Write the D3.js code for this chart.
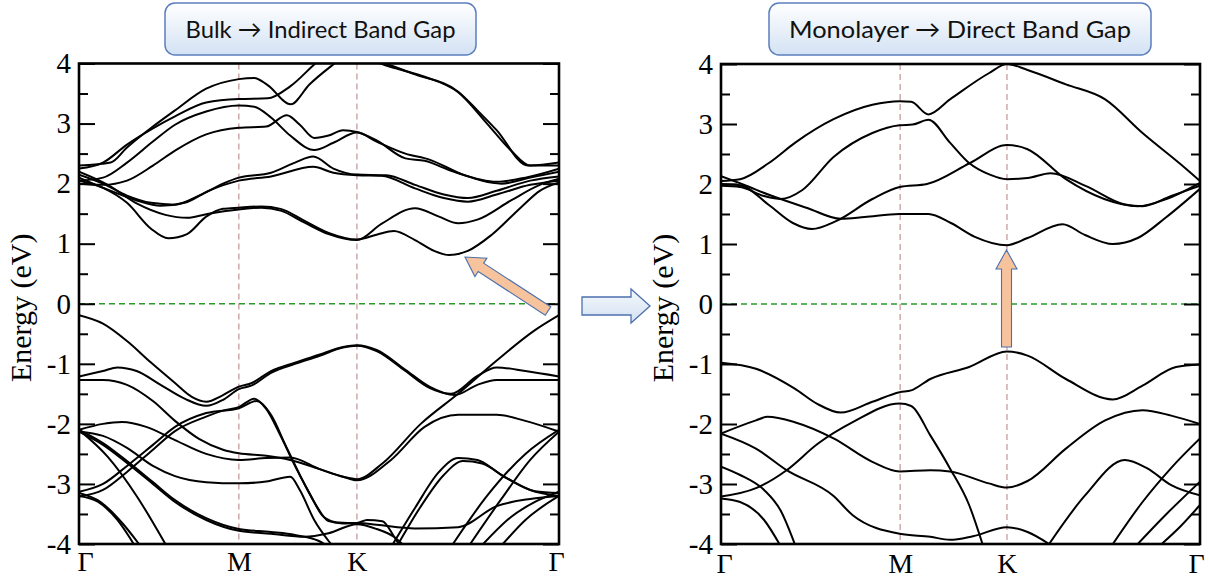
<!DOCTYPE html>
<html>
<head>
<meta charset="utf-8">
<script src="https://cdn.jsdelivr.net/npm/d3@7"></script>
<style>
  body { margin: 0; background: #fff; }
  svg { display: block; }
</style>
</head>
<body>
<div id="chart"></div>
<script>
// ---- data ----
const energyTicks = [-4, -3, -2, -1, 0, 1, 2, 3, 4];
const minorTicks = [-3.5, -2.5, -1.5, -0.5, 0.5, 1.5, 2.5, 3.5];
const kLabels = ["Γ", "M", "K", "Γ"];
const bulkKPoints = [0, 0.333, 0.579, 1];
const monoKPoints = [0, 0.374, 0.597, 1];
const bulkTitle = "Bulk → Indirect Band Gap";
const monoTitle = "Monolayer → Direct Band Gap";

// each band: [k (fraction of path), energy eV]
const bulkConduction = [
  [[0,2.05],[0.05,1.93],[0.1,1.68],[0.15,1.25],[0.186,1.09],[0.225,1.16],[0.265,1.45],[0.3,1.58],[0.333,1.6],[0.38,1.62],[0.42,1.58],[0.47,1.38],[0.52,1.18],[0.579,1.07],[0.62,1.15],[0.656,1.21],[0.7,1.06],[0.74,0.88],[0.771,0.81],[0.81,0.88],[0.86,1.15],[0.92,1.6],[0.96,1.88],[1,2.02]],
  [[0,2.2],[0.06,1.98],[0.12,1.67],[0.18,1.48],[0.225,1.43],[0.27,1.5],[0.333,1.57],[0.38,1.6],[0.42,1.55],[0.47,1.35],[0.52,1.16],[0.579,1.06],[0.63,1.33],[0.7,1.59],[0.75,1.45],[0.79,1.34],[0.83,1.4],[0.9,1.72],[0.96,1.98],[1,2.08]],
  [[0,2.1],[0.06,1.9],[0.12,1.72],[0.17,1.63],[0.22,1.68],[0.27,1.88],[0.333,2.05],[0.4,2.12],[0.488,2.28],[0.53,2.18],[0.579,2.14],[0.63,2.13],[0.7,1.92],[0.76,1.76],[0.81,1.7],[0.87,1.82],[0.94,1.98],[1,2.05]],
  [[0,2.15],[0.05,2.0],[0.1,1.8],[0.15,1.68],[0.2,1.65],[0.25,1.8],[0.3,2.0],[0.333,2.1],[0.4,2.18],[0.45,2.35],[0.488,2.45],[0.53,2.25],[0.579,2.15],[0.64,2.14],[0.7,1.98],[0.76,1.82],[0.81,1.76],[0.87,1.88],[0.94,2.05],[1,2.12]],
  [[0,2.0],[0.05,1.98],[0.1,2.05],[0.154,2.3],[0.2,2.55],[0.265,2.82],[0.333,2.93],[0.39,2.95],[0.433,3.14],[0.46,2.98],[0.49,2.76],[0.52,2.8],[0.55,2.89],[0.579,2.86],[0.62,2.72],[0.68,2.42],[0.72,2.38],[0.78,2.2],[0.87,2.03],[0.93,2.1],[1,2.25]],
  [[0,2.05],[0.05,2.1],[0.1,2.35],[0.154,2.7],[0.2,2.98],[0.265,3.2],[0.333,3.3],[0.365,3.28],[0.4,3.1],[0.44,2.8],[0.49,2.56],[0.53,2.68],[0.579,2.85],[0.62,2.7],[0.68,2.5],[0.73,2.4],[0.8,2.15],[0.88,2.0],[0.94,2.1],[1,2.2]],
  [[0,2.25],[0.05,2.35],[0.1,2.65],[0.154,2.92],[0.2,3.12],[0.265,3.35],[0.333,3.41],[0.393,3.42],[0.44,3.62],[0.5,4.05],[0.55,4.3],[0.579,4.35],[0.61,4.1],[0.64,4.0],[0.7,3.82],[0.79,3.53],[0.83,3.22],[0.87,2.89],[0.935,2.3],[1,2.3]],
  [[0,2.3],[0.066,2.35],[0.1,2.6],[0.154,2.95],[0.2,3.22],[0.265,3.58],[0.333,3.74],[0.365,3.76],[0.393,3.64],[0.441,3.32],[0.48,3.65],[0.54,4.05],[0.579,4.3],[0.62,4.03],[0.66,3.92],[0.72,3.78],[0.79,3.52],[0.85,3.0],[0.9,2.55],[0.94,2.3],[1,2.35]]
];

const bulkValence = [
  [[0,-0.19],[0.05,-0.33],[0.1,-0.62],[0.15,-0.98],[0.2,-1.32],[0.235,-1.55],[0.265,-1.63],[0.3,-1.52],[0.333,-1.38],[0.36,-1.32],[0.4,-1.12],[0.45,-0.98],[0.5,-0.85],[0.55,-0.72],[0.579,-0.69],[0.62,-0.77],[0.68,-1.1],[0.73,-1.38],[0.783,-1.52],[0.83,-1.35],[0.87,-1.27],[0.94,-1.27],[1,-1.27]],
  [[0,-1.21],[0.05,-1.12],[0.08,-1.06],[0.12,-1.12],[0.17,-1.35],[0.22,-1.58],[0.265,-1.7],[0.3,-1.6],[0.333,-1.42],[0.36,-1.36],[0.4,-1.15],[0.45,-1.0],[0.5,-0.87],[0.55,-0.73],[0.579,-0.7],[0.62,-0.79],[0.68,-1.12],[0.73,-1.4],[0.775,-1.5],[0.83,-1.2],[0.87,-1.06],[0.93,-1.12],[1,-1.21]],
  [[0,-1.27],[0.05,-1.27],[0.1,-1.35],[0.154,-1.62],[0.2,-1.95],[0.25,-2.25],[0.3,-2.43],[0.333,-2.49],[0.39,-2.53],[0.44,-2.6],[0.5,-2.75],[0.55,-2.88],[0.579,-2.92],[0.632,-2.66],[0.712,-2.0],[0.791,-1.49],[0.871,-0.94],[0.95,-0.44],[1,-0.19]],
  [[0,-2.1],[0.05,-2.0],[0.09,-1.97],[0.14,-2.05],[0.2,-2.27],[0.265,-2.5],[0.333,-2.6],[0.39,-2.57],[0.44,-2.56],[0.5,-2.75],[0.55,-2.88],[0.579,-2.94],[0.65,-2.6],[0.72,-2.05],[0.79,-1.85],[0.87,-1.85],[0.93,-1.95],[1,-2.13]],
  [[0,-3.21],[0.05,-3.1],[0.1,-2.8],[0.154,-2.43],[0.2,-2.12],[0.265,-1.88],[0.3,-1.78],[0.333,-1.72],[0.365,-1.58],[0.39,-1.75],[0.42,-2.2],[0.45,-2.7],[0.48,-3.15],[0.51,-3.55],[0.54,-3.64],[0.579,-3.65],[0.6,-3.6],[0.632,-3.62],[0.656,-3.87],[0.67,-4.05]],
  [[0,-3.13],[0.05,-3.0],[0.1,-2.7],[0.154,-2.35],[0.2,-2.05],[0.265,-1.82],[0.333,-1.74],[0.37,-1.62],[0.4,-1.85],[0.43,-2.35],[0.46,-2.85],[0.49,-3.3],[0.52,-3.62],[0.55,-3.66],[0.579,-3.65],[0.62,-3.68],[0.7,-3.74],[0.79,-3.72],[0.87,-3.37],[0.94,-3.25],[1,-3.2]],
  [[0,-2.13],[0.05,-2.2],[0.1,-2.4],[0.154,-2.7],[0.2,-2.87],[0.265,-2.97],[0.333,-2.99],[0.39,-2.96],[0.44,-2.88],[0.46,-3.1],[0.49,-3.6],[0.52,-3.95],[0.53,-4.05]],
  [[0,-2.13],[0.05,-2.35],[0.1,-2.65],[0.154,-3.0],[0.2,-3.3],[0.265,-3.6],[0.333,-3.78],[0.4,-3.83],[0.47,-3.88],[0.52,-3.82],[0.579,-3.67],[0.62,-3.75],[0.656,-3.88],[0.68,-4.05]],
  [[0,-2.1],[0.05,-2.32],[0.1,-2.62],[0.154,-2.97],[0.2,-3.27],[0.265,-3.57],[0.333,-3.75],[0.4,-3.8],[0.45,-3.85],[0.5,-3.95],[0.52,-4.05]],
  [[0,-2.1],[0.06,-2.55],[0.12,-3.2],[0.18,-4.0]],
  [[0,-3.2],[0.04,-3.3],[0.08,-3.6],[0.114,-4.0]],
  [[0,-3.15],[0.045,-3.3],[0.09,-3.65],[0.125,-4.0]],
  [[0.654,-4.0],[0.7,-3.4],[0.75,-2.8],[0.79,-2.57],[0.83,-2.6],[0.88,-2.85],[0.94,-3.1],[1,-3.2]],
  [[0.665,-4.0],[0.71,-3.4],[0.76,-2.85],[0.8,-2.62],[0.84,-2.66],[0.89,-2.9],[0.95,-3.12],[1,-3.15]],
  [[0.779,-4.0],[0.85,-3.2],[0.93,-2.5],[1,-2.1]],
  [[0.815,-4.0],[0.88,-3.25],[0.94,-2.6],[1,-2.13]],
  [[0.842,-4.0],[0.9,-3.55],[0.95,-3.3],[1,-3.13]],
  [[0.883,-4.0],[0.93,-3.6],[1,-3.2]]
];

const monoConduction = [
  [[0,2.13],[0.05,1.98],[0.1,1.82],[0.18,1.6],[0.25,1.42],[0.3,1.45],[0.373,1.5],[0.433,1.5],[0.48,1.35],[0.53,1.12],[0.597,0.98],[0.64,1.1],[0.713,1.33],[0.76,1.15],[0.818,1.0],[0.87,1.1],[0.93,1.45],[1,1.92]],
  [[0,2.0],[0.04,1.98],[0.1,1.65],[0.15,1.35],[0.19,1.25],[0.24,1.38],[0.316,1.75],[0.373,1.95],[0.43,2.0],[0.52,2.35],[0.597,2.65],[0.64,2.58],[0.72,2.08],[0.8,1.75],[0.87,1.63],[0.93,1.75],[1,2.02]],
  [[0,1.97],[0.04,1.95],[0.09,1.8],[0.125,1.75],[0.17,1.9],[0.235,2.45],[0.316,2.85],[0.373,2.98],[0.4,2.99],[0.433,3.07],[0.478,2.69],[0.518,2.35],[0.56,2.16],[0.597,2.08],[0.64,2.1],[0.688,2.18],[0.761,1.97],[0.843,1.66],[0.88,1.63],[0.94,1.8],[1,1.97]],
  [[0,2.05],[0.04,2.08],[0.1,2.35],[0.155,2.69],[0.235,3.08],[0.316,3.32],[0.373,3.38],[0.397,3.37],[0.433,3.16],[0.478,3.41],[0.56,3.85],[0.597,4.0],[0.64,3.9],[0.72,3.66],[0.802,3.41],[0.88,2.85],[0.964,2.3],[1,2.05]]
];

const monoValence = [
  [[0,-0.98],[0.073,-1.08],[0.154,-1.41],[0.2,-1.66],[0.25,-1.81],[0.316,-1.63],[0.373,-1.47],[0.397,-1.44],[0.437,-1.25],[0.518,-1.05],[0.597,-0.79],[0.64,-0.86],[0.72,-1.25],[0.818,-1.59],[0.88,-1.36],[0.95,-1.05],[1,-1.01]],
  [[0,-2.16],[0.073,-1.94],[0.097,-1.88],[0.154,-1.97],[0.235,-2.24],[0.316,-2.63],[0.373,-2.79],[0.437,-2.77],[0.478,-2.79],[0.559,-2.99],[0.597,-3.06],[0.64,-2.95],[0.72,-2.41],[0.802,-1.94],[0.88,-1.77],[0.94,-1.86],[1,-2.0]],
  [[0,-3.21],[0.073,-3.07],[0.137,-2.77],[0.202,-2.33],[0.275,-1.97],[0.373,-1.66],[0.397,-1.7],[0.437,-2.19],[0.478,-2.74],[0.518,-3.35],[0.546,-4.0]],
  [[0,-2.16],[0.073,-2.41],[0.137,-2.77],[0.235,-3.2],[0.275,-3.52],[0.373,-3.83],[0.437,-3.88],[0.478,-3.93],[0.526,-3.87],[0.597,-3.72],[0.64,-3.8],[0.685,-4.0]],
  [[0,-2.71],[0.04,-2.85],[0.09,-3.1],[0.125,-3.45],[0.154,-4.0]],
  [[0,-3.24],[0.04,-3.3],[0.09,-3.6],[0.122,-4.0]],
  [[0.685,-4.0],[0.76,-3.19],[0.843,-2.6],[0.89,-2.74],[0.94,-3.02],[1,-3.19]],
  [[0.818,-4.0],[0.88,-3.3],[0.94,-2.73],[1,-2.24]],
  [[0.87,-4.0],[0.93,-3.5],[1,-2.96]],
  [[0.92,-4.0],[0.96,-3.7],[1,-3.35]]
];

// ---- drawing ----
const W = 1210, H = 578;
const svg = d3.select("#chart").append("svg").attr("width", W).attr("height", H);
const defs = svg.append("defs");

const boxGrad = defs.append("linearGradient").attr("id", "boxGrad")
  .attr("x1", 0).attr("y1", 0).attr("x2", 0).attr("y2", 1);
boxGrad.append("stop").attr("offset", "0%").attr("stop-color", "#ffffff");
boxGrad.append("stop").attr("offset", "100%").attr("stop-color", "#d3e2f4");

const serif = "'Liberation Serif', 'Times New Roman', 'DejaVu Serif', serif";

const panels = [
  { id: "bulk", x0: 79, x1: 559, y0: 63.5, y1: 544, kPoints: bulkKPoints,
    bands: bulkConduction.concat(bulkValence), title: bulkTitle, titleLen: 270,
    box: [165, 3, 311, 52], labelX: 31, kLabelY: 571, kShift: [6, 0, 0, -3] },
  { id: "mono", x0: 721, x1: 1200, y0: 64, y1: 544, kPoints: monoKPoints,
    bands: monoConduction.concat(monoValence), title: monoTitle, titleLen: 342,
    box: [769, 3, 382, 52], labelX: 673, kLabelY: 573, kShift: [3, 0, 0, -4] }
];

panels.forEach(p => drawPanel(p));

function drawPanel(p) {
  const x = d3.scaleLinear().domain([0, 1]).range([p.x0, p.x1]);
  const y = d3.scaleLinear().domain([-4, 4]).range([p.y1, p.y0]);
  const g = svg.append("g").attr("class", "panel-" + p.id);

  defs.append("clipPath").attr("id", "clip-" + p.id)
    .append("rect").attr("x", p.x0).attr("y", p.y0)
    .attr("width", p.x1 - p.x0).attr("height", p.y1 - p.y0);

  const inner = g.append("g").attr("clip-path", `url(#clip-${p.id})`);

  // high symmetry lines
  inner.selectAll(".sym").data(p.kPoints.slice(1, 3)).enter()
    .append("line")
    .attr("x1", d => x(d)).attr("x2", d => x(d))
    .attr("y1", p.y0).attr("y2", p.y1)
    .attr("stroke", "#c69c9c").attr("stroke-width", 1.3)
    .attr("stroke-dasharray", "6,4");

  // fermi level
  inner.append("line")
    .attr("x1", p.x0).attr("x2", p.x1)
    .attr("y1", y(0)).attr("y2", y(0))
    .attr("stroke", "#2a9a2a").attr("stroke-width", 1.6)
    .attr("stroke-dasharray", "6,4");

  const line = d3.line()
    .x(d => x(d[0])).y(d => y(d[1]))
    .curve(d3.curveMonotoneX);

  inner.selectAll(".band").data(p.bands).enter()
    .append("path")
    .attr("class", "band")
    .attr("d", line)
    .attr("fill", "none")
    .attr("stroke", "#000")
    .attr("stroke-width", 2);

  // ticks, inward on both sides
  const fmt = d => String(d);
  const tickSides = [
    { pos: p.x0, axis: d3.axisRight },
    { pos: p.x1, axis: d3.axisLeft }
  ];
  tickSides.forEach(s => {
    g.append("g").attr("transform", `translate(${s.pos},0)`)
      .call(s.axis(y).tickValues(energyTicks).tickSize(16).tickFormat(""))
      .call(a => a.select(".domain").remove())
      .selectAll("line").attr("stroke-width", 2);
    g.append("g").attr("transform", `translate(${s.pos},0)`)
      .call(s.axis(y).tickValues(minorTicks).tickSize(9).tickFormat(""))
      .call(a => a.select(".domain").remove())
      .selectAll("line").attr("stroke-width", 2);
  });

  // tick labels
  g.append("g").attr("transform", `translate(${p.x0},0)`)
    .call(d3.axisLeft(y).tickValues(energyTicks).tickSize(0).tickPadding(8).tickFormat(fmt))
    .call(a => a.select(".domain").remove())
    .selectAll("text")
    .attr("font-family", serif).attr("font-size", 29).attr("fill", "#000");

  // k labels
  const kAxis = g.append("g").attr("transform", `translate(0,${p.kLabelY - 20})`)
    .call(d3.axisBottom(x).tickValues(p.kPoints).tickSize(0).tickPadding(0)
      .tickFormat((d, i) => kLabels[i]))
    .call(a => a.select(".domain").remove());
  kAxis.selectAll("text")
    .attr("font-family", serif).attr("font-size", 28).attr("fill", "#000")
    .attr("dy", "0.71em")
    .attr("dx", (d, i) => p.kShift[i]);

  // frame
  g.append("rect")
    .attr("x", p.x0).attr("y", p.y0)
    .attr("width", p.x1 - p.x0).attr("height", p.y1 - p.y0)
    .attr("fill", "none").attr("stroke", "#000").attr("stroke-width", 2.6);

  // axis title
  g.append("text")
    .attr("transform", `translate(${p.labelX},${y(0) + 4}) rotate(-90)`)
    .attr("text-anchor", "middle")
    .attr("font-family", serif).attr("font-size", 30)
    .text("Energy (eV)");

  // title box
  const [bx, by, bw, bh] = p.box;
  svg.append("rect")
    .attr("x", bx).attr("y", by).attr("width", bw).attr("height", bh)
    .attr("rx", 10).attr("ry", 10)
    .attr("fill", "url(#boxGrad)").attr("stroke", "#5b7fbd").attr("stroke-width", 1.5);
  svg.append("text")
    .attr("x", bx + bw / 2).attr("y", by + 35)
    .attr("text-anchor", "middle")
    .attr("font-family", "Lato, 'Open Sans', sans-serif").attr("font-size", 24)
    .attr("textLength", p.titleLen).attr("lengthAdjust", "spacingAndGlyphs")
    .attr("fill", "#111")
    .text(p.title);
}

// ---- arrows ----
const arrowGrad = defs.append("linearGradient").attr("id", "arrowGrad")
  .attr("x1", 0).attr("y1", 0).attr("x2", 0).attr("y2", 1);
arrowGrad.append("stop").attr("offset", "0%").attr("stop-color", "#f4f8fc");
arrowGrad.append("stop").attr("offset", "100%").attr("stop-color", "#d3e1f2");

function blockArrow(tail, tip, shaftW, headW, headL) {
  const dx = tip[0] - tail[0], dy = tip[1] - tail[1];
  const len = Math.hypot(dx, dy);
  const ux = dx / len, uy = dy / len, nx = -uy, ny = ux;
  const bx = tip[0] - ux * headL, by = tip[1] - uy * headL;
  const pts = [
    [tail[0] + nx * shaftW / 2, tail[1] + ny * shaftW / 2],
    [bx + nx * shaftW / 2, by + ny * shaftW / 2],
    [bx + nx * headW / 2, by + ny * headW / 2],
    tip,
    [bx - nx * headW / 2, by - ny * headW / 2],
    [bx - nx * shaftW / 2, by - ny * shaftW / 2],
    [tail[0] - nx * shaftW / 2, tail[1] - ny * shaftW / 2]
  ];
  return "M" + pts.map(q => q.join(",")).join("L") + "Z";
}

// middle transition arrow
svg.append("path")
  .attr("d", blockArrow([582, 306], [650, 306], 18, 34, 19))
  .attr("fill", "url(#arrowGrad)").attr("stroke", "#4c70ad").attr("stroke-width", 1.3);

// orange gap arrows
svg.append("path")
  .attr("d", blockArrow([548, 311], [465, 257], 10, 22, 19))
  .attr("fill", "#f7c39c").attr("stroke", "#4c70ad").attr("stroke-width", 1.1);
svg.append("path")
  .attr("d", blockArrow([1006.5, 347], [1006.5, 250], 10, 21, 19))
  .attr("fill", "#f7c39c").attr("stroke", "#4c70ad").attr("stroke-width", 1.1);
</script>
</body>
</html>
